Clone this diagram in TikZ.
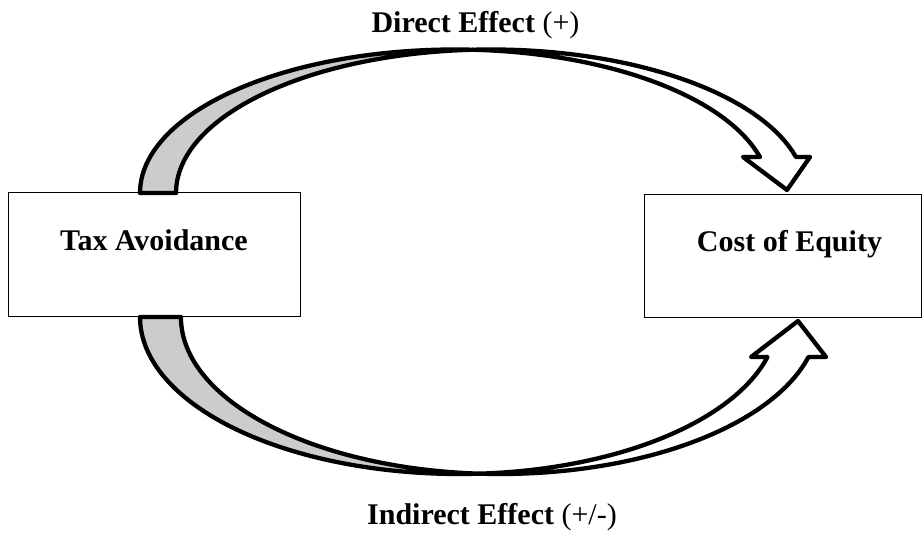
\documentclass[tikz,border=0pt]{standalone}
\usepackage{fontspec}
\setmainfont{Liberation Serif}
\begin{document}
\begin{tikzpicture}[x=1pt,y=1pt,
  box/.style={draw=black,line width=1.2pt,fill=white,inner sep=0pt,anchor=south west},
  lbl/.style={font=\fontsize{30}{35}\selectfont\bfseries,anchor=base,inner sep=0pt},
  band/.style={draw=black,line width=4.3pt,line join=round},
  under/.style={band,fill=black!20},
  over/.style={band,fill=white}]
\useasboundingbox (0,0) rectangle (924,537);
% boxes
\node[box,minimum width=292pt,minimum height=124pt] (tax) at (8,220) {};
\node[box,minimum width=277pt,minimum height=123pt] (coe) at (644,219) {};
% top curved arrow (Direct Effect)
\coordinate (tcross) at ([shift={(491,344)}]93.28:315 and 143.5);
\filldraw[under] (140,344)
  arc[start angle=180,end angle=86.72,x radius=315,y radius=143.5]
  arc[start angle=93.28,end angle=180,x radius=315,y radius=143.5] -- cycle;
\coordinate (ttip) at (787,347);
\filldraw[over] (tcross)
  arc[start angle=93.28,end angle=14.53,x radius=315,y radius=143.5]
  -- (810,380) -- (ttip) -- (743,380) -- (759.9,380)
  arc[start angle=14.53,end angle=86.72,x radius=315,y radius=143.5] -- cycle;
% bottom curved arrow (Indirect Effect)
\coordinate (bcross) at ([shift={(500,220)}]-93.68:319 and 157);
\filldraw[under] (140,220)
  arc[start angle=-180,end angle=-86.32,x radius=319,y radius=157]
  arc[start angle=-93.68,end angle=-180,x radius=319,y radius=157] -- cycle;
\coordinate (btip) at (798,216);
\filldraw[over] (bcross)
  arc[start angle=-93.68,end angle=-14.76,x radius=319,y radius=157]
  -- (826,180) -- (btip) -- (751,180) -- (767.5,180)
  arc[start angle=-14.76,end angle=-86.32,x radius=319,y radius=157] -- cycle;
% labels
\node[lbl] (taxt) at (154,286) {Tax Avoidance};
\node[lbl] (coet) at (789.5,285) {Cost of Equity};
\node[lbl] (de) at (475.5,504) {Direct Effect \mdseries(+)};
\node[lbl] (ie) at (492,12) {Indirect Effect \mdseries(+/-)};
\end{tikzpicture}
\end{document}
